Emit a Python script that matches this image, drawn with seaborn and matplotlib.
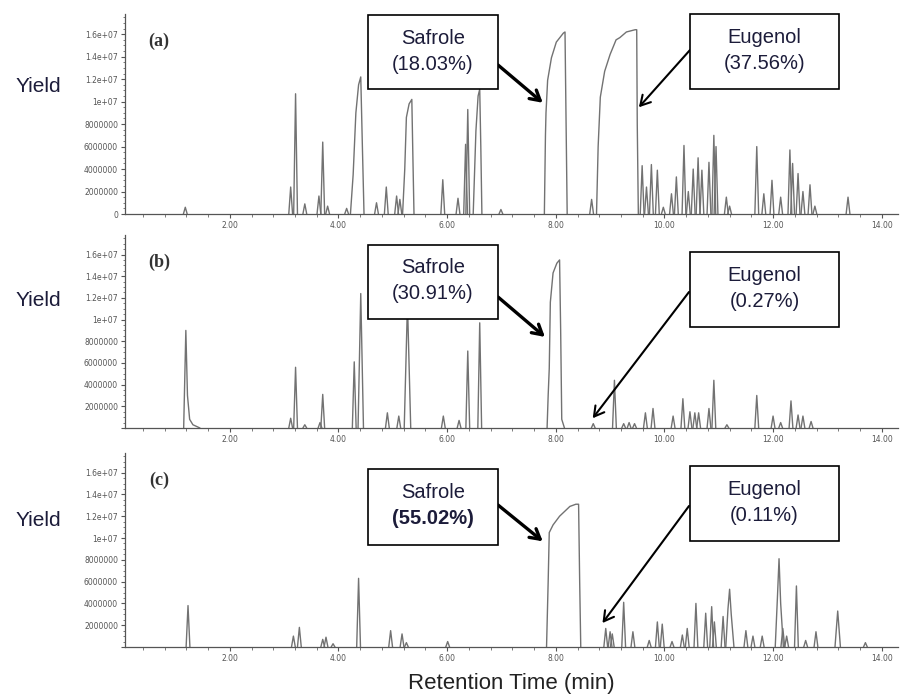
import numpy as np
import pandas as pd
import matplotlib
matplotlib.use('Agg')
import matplotlib.pyplot as plt
from matplotlib.patches import Rectangle
from matplotlib.ticker import MultipleLocator
import seaborn as sns

# --- data (time in min, height in 1e6 counts) ---
# (a) narrow peaks
rt_a = [1.18, 3.12, 3.21, 3.38, 3.64, 3.71, 3.80, 4.15, 4.70, 4.88, 5.07, 5.13,
        5.92, 6.20, 6.34, 6.38, 6.99, 8.66, 9.59, 9.67, 9.76, 9.87, 9.98, 10.13,
        10.22, 10.36, 10.44, 10.53, 10.62, 10.69, 10.82, 10.91, 10.95, 11.14, 11.20,
        11.70, 11.83, 11.98, 12.14, 12.31, 12.36, 12.46, 12.55, 12.68, 12.77, 13.38]
height_a = [0.6, 2.4, 10.7, 0.9, 1.6, 6.4, 0.7, 0.5, 1.0, 2.4, 1.6, 1.3,
            3.05, 1.4, 6.2, 9.3, 0.4, 1.3, 4.3, 2.4, 4.4, 3.9, 0.6, 1.8,
            3.3, 6.1, 2.0, 4.0, 5.0, 3.9, 4.6, 7.0, 6.0, 1.5, 0.7,
            6.0, 1.8, 3.0, 1.5, 5.7, 4.5, 3.6, 2.0, 2.6, 0.7, 1.5]
# (a) broad / saturated peak outlines
p44_a_t = [4.22, 4.27, 4.32, 4.37, 4.41, 4.44, 4.47]
p44_a_h = [0, 3.5, 9.0, 11.5, 12.2, 6.0, 0]
p53_a_t = [5.18, 5.22, 5.25, 5.30, 5.35, 5.37, 5.39]
p53_a_h = [0, 4.0, 8.6, 9.8, 10.2, 5.0, 0]
p66_a_t = [6.48, 6.53, 6.57, 6.60, 6.62, 6.64]
p66_a_h = [0, 7.4, 10.5, 11.1, 6.0, 0]
safrole_a_t = [7.79, 7.81, 7.82, 7.85, 7.92, 8.01, 8.14, 8.17, 8.19, 8.21]
safrole_a_h = [0, 7.0, 9.0, 11.9, 13.9, 15.3, 16.1, 16.2, 8.0, 0]
eugenol_a_t = [8.75, 8.78, 8.82, 8.90, 9.00, 9.11, 9.18, 9.30, 9.46, 9.49, 9.50, 9.52]
eugenol_a_h = [0, 6.0, 10.4, 12.7, 14.2, 15.5, 15.7, 16.2, 16.4, 16.4, 8.0, 0]

# (b) narrow peaks
rt_b = [3.12, 3.21, 3.38, 3.66, 3.71, 4.29, 4.90, 5.11, 5.93, 6.22, 6.38, 6.60,
        8.69, 9.08, 9.25, 9.35, 9.45, 9.65, 9.79, 10.16, 10.34, 10.47, 10.56, 10.63,
        10.82, 10.91, 11.15, 11.70, 12.00, 12.14, 12.33, 12.46, 12.55, 12.70]
height_b = [0.9, 5.6, 0.3, 0.5, 3.1, 6.1, 1.4, 1.1, 1.1, 0.7, 7.1, 9.7,
            0.4, 4.4, 0.4, 0.5, 0.4, 1.4, 1.8, 1.1, 2.7, 1.5, 1.4, 1.4,
            1.8, 4.4, 0.3, 3.0, 1.1, 0.5, 2.5, 1.2, 1.1, 0.6]
# (b) broad peak outlines
p12_b_t = [1.15, 1.19, 1.22, 1.26, 1.32, 1.45]
p12_b_h = [0, 9.0, 3.0, 0.8, 0.3, 0]
p44_b_t = [4.36, 4.41, 4.46]
p44_b_h = [0, 12.4, 0]
p53_b_t = [5.21, 5.27, 5.33]
p53_b_h = [0, 11.5, 0]
safrole_b_t = [7.84, 7.86, 7.88, 7.90, 7.95, 8.02, 8.07, 8.09, 8.11, 8.16]
safrole_b_h = [0, 3.0, 5.5, 11.6, 14.3, 15.2, 15.5, 9.0, 0.8, 0]

# (c) narrow peaks
rt_c = [1.23, 3.17, 3.28, 3.71, 3.77, 3.90, 4.37, 4.96, 5.17, 5.25, 6.01, 8.92,
        9.00, 9.04, 9.25, 9.42, 9.72, 9.87, 9.96, 10.14, 10.33, 10.42, 10.58, 10.76,
        10.87, 10.92, 11.08, 11.50, 11.63, 11.80, 12.18, 12.25, 12.43, 12.60, 12.79, 13.70]
height_c = [3.8, 1.0, 1.8, 0.7, 0.9, 0.3, 6.3, 1.5, 1.2, 0.4, 0.5, 1.7,
            1.4, 1.2, 4.1, 1.4, 0.6, 2.3, 2.1, 0.5, 1.1, 1.7, 4.0, 3.1,
            3.7, 2.3, 2.8, 1.5, 1.0, 1.0, 1.7, 1.0, 5.6, 0.6, 1.4, 0.4]
# (c) broad peak outlines
p112_c_t = [11.13, 11.17, 11.20, 11.23, 11.28]
p112_c_h = [0, 3.5, 5.3, 3.0, 0]
p121_c_t = [12.04, 12.08, 12.11, 12.14, 12.19]
p121_c_h = [0, 4.5, 8.1, 4.0, 0]
p132_c_t = [13.14, 13.19, 13.24]
p132_c_h = [0, 3.3, 0]
safrole_c_t = [7.83, 7.86, 7.88, 7.95, 8.07, 8.26, 8.37, 8.42, 8.44, 8.46]
safrole_c_h = [0, 6.0, 10.5, 11.2, 12.0, 12.9, 13.1, 13.1, 6.0, 0]

# annotation labels and where the arrows point (time, height)
panel_labels = ['(a)', '(b)', '(c)']
safrole_pct = ['(18.03%)', '(30.91%)', '(55.02%)']
eugenol_pct = ['(37.56%)', '(0.27%)', '(0.11%)']
safrole_tip = [(7.76, 9.9), (7.80, 8.4), (7.76, 9.7)]
eugenol_tip = [(9.53, 9.5), (8.68, 0.9), (8.86, 2.2)]

x_ticks = [2, 4, 6, 8, 10, 12, 14]
x_tick_labels = ['2.00', '4.00', '6.00', '8.00', '10.00', '12.00', '14.00']
y_ticks = [0, 2e6, 4e6, 6e6, 8e6, 1e7, 1.2e7, 1.4e7, 1.6e7]
y_tick_labels = ['0', '2000000', '4000000', '6000000', '8000000',
                 '1e+07', '1.2e+07', '1.4e+07', '1.6e+07']

HALF_W = 0.035
W, H = 901, 700


def px(x, y):
    # reference pixel (from top-left) -> figure fraction
    return x / W, 1 - y / H


def trace_frame(rt, height, outlines):
    rows = []
    for i, (t, h) in enumerate(zip(rt, height)):
        rows += [(i, t - HALF_W, 0.0), (i, t, h * 1e6), (i, t + HALF_W, 0.0)]
    for j, (ts, hs) in enumerate(outlines):
        rows += [(len(rt) + j, t, h * 1e6) for t, h in zip(ts, hs)]
    return pd.DataFrame(rows, columns=['peak', 'time', 'signal'])


frames = [
    trace_frame(rt_a, height_a, [(p44_a_t, p44_a_h), (p53_a_t, p53_a_h), (p66_a_t, p66_a_h),
                                 (safrole_a_t, safrole_a_h), (eugenol_a_t, eugenol_a_h)]),
    trace_frame(rt_b, height_b, [(p12_b_t, p12_b_h), (p44_b_t, p44_b_h), (p53_b_t, p53_b_h),
                                 (safrole_b_t, safrole_b_h)]),
    trace_frame(rt_c, height_c, [(p112_c_t, p112_c_h), (p121_c_t, p121_c_h), (p132_c_t, p132_c_h),
                                 (safrole_c_t, safrole_c_h)]),
]

sns.set_style('ticks')
plt.rcParams['font.family'] = ['Liberation Sans', 'DejaVu Sans']

fig = plt.figure(figsize=(9.01, 7.0), dpi=100)

# axes boxes in reference pixels: (top, bottom)
panel_px = [(14, 214), (235, 428), (453, 647)]
yield_y = [86, 300, 520]
# annotation box geometry (x0, y0, x1, y1) and arrow tails
safrole_box = [(368, 15, 498, 89), (368, 245, 498, 319), (368, 469, 498, 545)]
eugenol_box = [(690, 14, 839, 89), (690, 252, 839, 327), (690, 466, 839, 541)]
safrole_tail = [(498, 65), (498, 297), (498, 505)]
eugenol_tail = [(690, 50), (689, 292), (689, 506)]
text_color = '#1c1c3a'

for k, df in enumerate(frames):
    top, bottom = panel_px[k]
    ax = fig.add_axes([125 / W, 1 - bottom / H, 773 / W, (bottom - top) / H])
    sns.lineplot(data=df, x='time', y='signal', units='peak', estimator=None, sort=False,
                 color='#727272', linewidth=1.0, ax=ax)
    ax.set_xlim(0.07, 14.3)
    ax.set_ylim(0, 1.78e7)
    ax.set_xlabel('')
    ax.set_ylabel('')
    ax.set_xticks(x_ticks)
    ax.set_xticklabels(x_tick_labels)
    ax.set_yticks(y_ticks)
    ax.set_yticklabels(y_tick_labels if k == 0 else [''] + y_tick_labels[1:])
    ax.xaxis.set_minor_locator(MultipleLocator(0.4))
    ax.yaxis.set_minor_locator(MultipleLocator(5e5))
    ax.tick_params(which='major', direction='out', length=3, width=0.8, color='#555555',
                   labelsize=5.5, labelcolor='#555555', pad=2)
    ax.tick_params(which='minor', direction='out', length=1.8, width=0.6, color='#666666')
    for s in ['top', 'right']:
        ax.spines[s].set_visible(False)
    for s in ['left', 'bottom']:
        ax.spines[s].set_color('#555555')
        ax.spines[s].set_linewidth(0.9)
    for lab in ax.get_xticklabels() + ax.get_yticklabels():
        lab.set_family('DejaVu Sans')

    # arrows from boxes to peaks
    ax.annotate('', xy=(safrole_tip[k][0], safrole_tip[k][1] * 1e6), xycoords='data',
                xytext=px(*safrole_tail[k]), textcoords='figure fraction',
                arrowprops=dict(arrowstyle='->,head_length=0.7,head_width=0.4', lw=2.4,
                                color='black', shrinkA=0, shrinkB=0))
    ax.annotate('', xy=(eugenol_tip[k][0], eugenol_tip[k][1] * 1e6), xycoords='data',
                xytext=px(*eugenol_tail[k]), textcoords='figure fraction',
                arrowprops=dict(arrowstyle='->,head_length=0.7,head_width=0.4', lw=1.5,
                                color='black', shrinkA=0, shrinkB=0))

    # boxes and labels
    for (x0, y0, x1, y1), name, pct in [(safrole_box[k], 'Safrole', safrole_pct[k]),
                                         (eugenol_box[k], 'Eugenol', eugenol_pct[k])]:
        fx, fy = px(x0, y1)
        fig.add_artist(Rectangle((fx, fy), (x1 - x0) / W, (y1 - y0) / H, transform=fig.transFigure,
                                 facecolor='white', edgecolor='black', linewidth=1.2, zorder=5))
        cx = (x0 + x1) / 2
        cy = (y0 + y1) / 2
        fig.text(*px(cx, cy - 14), name, ha='center', va='center', fontsize=14.5,
                 color=text_color, zorder=6)
        bold = 'bold' if (k == 2 and name == 'Safrole') else 'normal'
        fig.text(*px(cx, cy + 12), pct, ha='center', va='center', fontsize=14.5,
                 color=text_color, fontweight=bold, zorder=6)

    # Yield and panel letter
    fig.text(*px(38, yield_y[k]), 'Yield', ha='center', va='center', fontsize=15, color=text_color)
    fig.text(*px(159, top + 27), panel_labels[k], ha='center', va='center', fontsize=13,
             family=['Liberation Serif', 'DejaVu Serif'], fontweight='bold', color='#333333')

fig.text(*px(511, 684), 'Retention Time (min)', ha='center', va='center', fontsize=16,
         color='#222222')

fig.savefig('out.png', dpi=100)
